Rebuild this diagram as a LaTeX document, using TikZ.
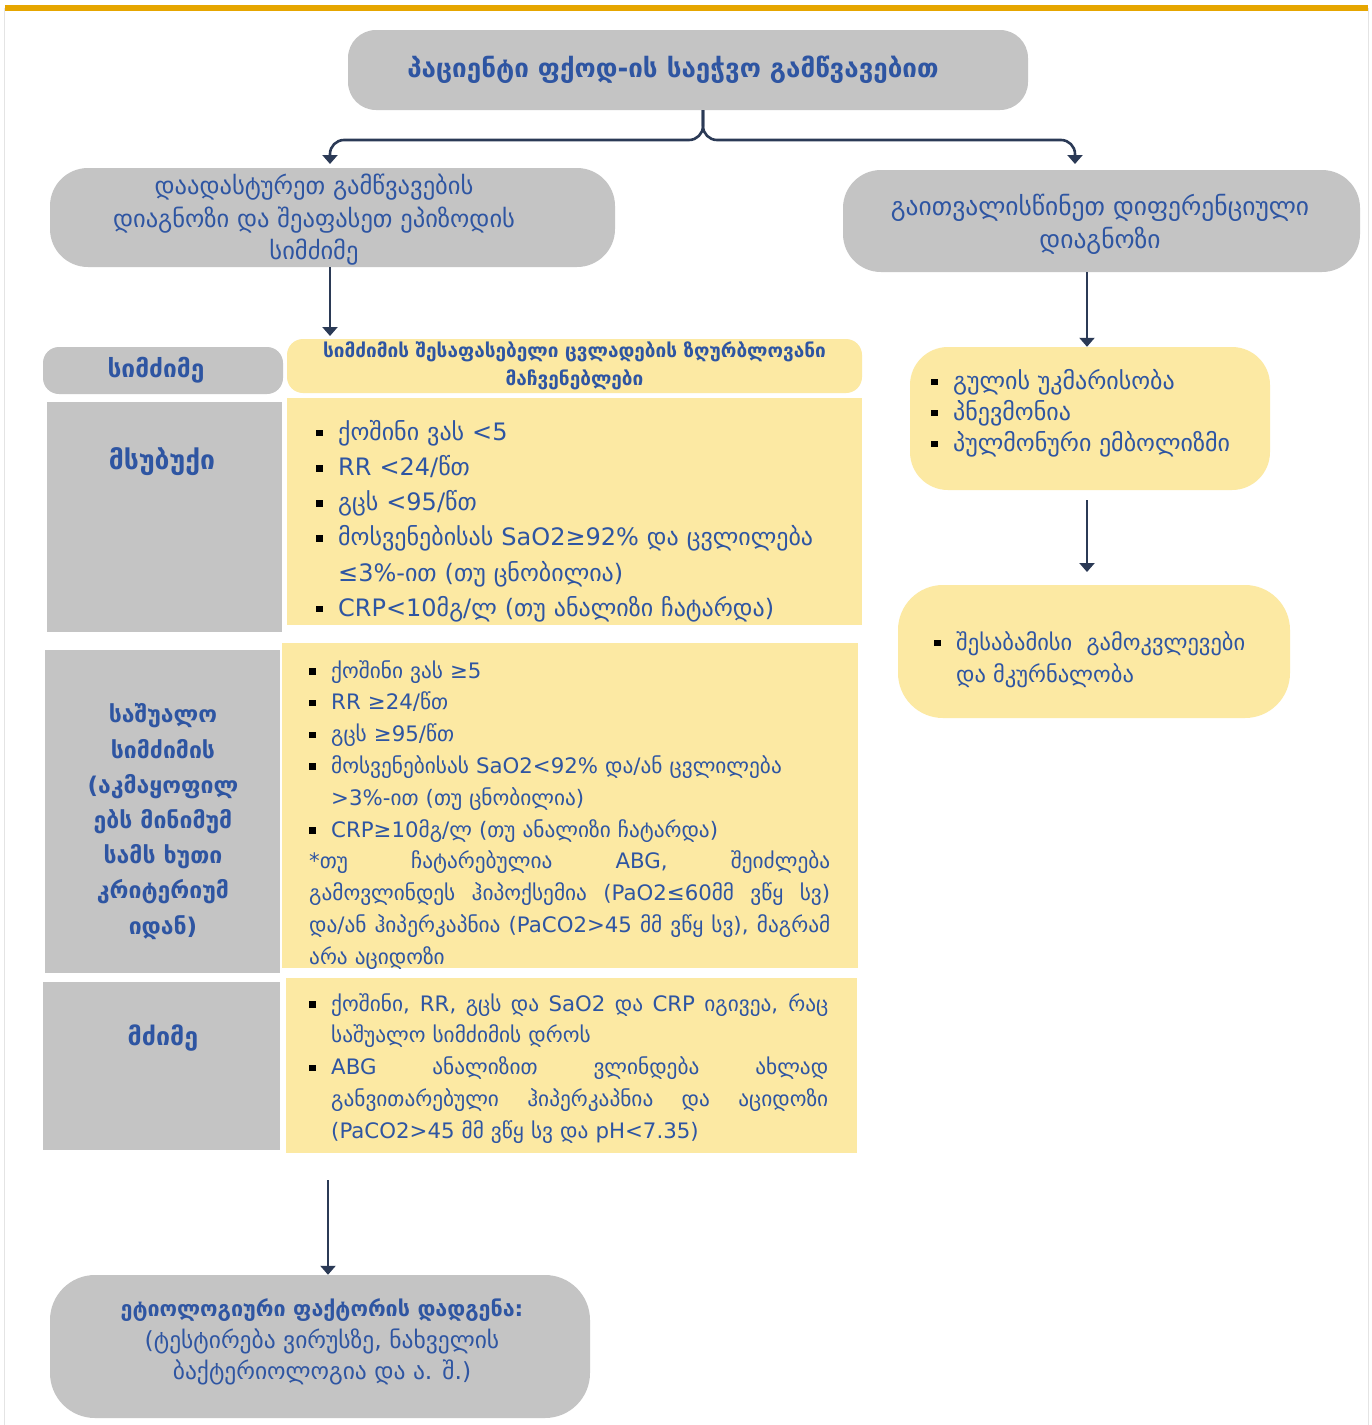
\documentclass[tikz,border=0pt]{standalone}
\usepackage{fontspec}
\setmainfont{DejaVu Sans}
\usetikzlibrary{arrows.meta}

\definecolor{goldbar}{HTML}{E6A600}
\definecolor{boxgray}{HTML}{C4C4C4}
\definecolor{boxyellow}{HTML}{FCE9A3}
\definecolor{txtblue}{HTML}{2E55A2}
\definecolor{linknavy}{HTML}{2B3A56}
\definecolor{framegray}{HTML}{E4E4E4}

% square bullet followed by the hanging gap
\newcommand\blt[1]{\makebox[#1][l]{\color{black}\raisebox{0.3ex}{\rule{6.5pt}{6.5pt}}}}
\newcommand\fsz[2]{\fontsize{#1}{#2}\selectfont}
% a fully justified line of the given width
\newcommand\spreadline[2]{\makebox[#1][s]{\spaceskip=0pt\xspaceskip=0pt #2}}

\begin{document}
\begin{tikzpicture}[x=1pt,y=-1pt,
  graybox/.style={fill=boxgray, draw=none, inner sep=0pt, text=txtblue, align=center},
  ylwbox/.style={fill=boxyellow, draw=none, inner sep=0pt, text=txtblue},
  celltext/.style={inner sep=0pt, text=txtblue, align=left, anchor=north west},
  flow/.style={draw=linknavy, line width=2.6pt, -{Triangle[length=9pt,width=15pt]}},
]
\useasboundingbox (0,0) rectangle (1372,1425);
\fill[white] (0,0) rectangle (1372,1425);

% frame and top rule
\draw[framegray, line width=1pt] (4,8) -- (4,1425) (1368,8) -- (1368,1425);
\draw[goldbar, line width=6pt] (5,8) -- (1368,8);

% top of the flow
\node[graybox, rounded corners=28pt, minimum width=680pt, minimum height=80pt,
      font=\bfseries\fsz{26}{30}] (title) at (688,70)
  {\hspace*{-30pt}პაციენტი ფქოდ-ის საეჭვო გამწვავებით};

\node[graybox, rounded corners=38pt, minimum width=565pt, minimum height=99pt] (confirm) at (332.5,217.5) {};
\node[text=txtblue, align=center, font=\fsz{24.5}{32.5}] (confirmtxt) at (314,220)
  {დაადასტურეთ გამწვავების\\დიაგნოზი და შეაფასეთ ეპიზოდის\\სიმძიმე};

\node[graybox, rounded corners=38pt, minimum width=517pt, minimum height=102pt] (differ) at (1101.5,221) {};
\node[text=txtblue, align=center, font=\fsz{25.5}{33}] (differtxt) at (1100,224)
  {გაითვალისწინეთ დიფერენციული\\დიაგნოზი};

% branching connector from the title
\coordinate (split) at (703,140);
\draw[flow, rounded corners=14pt] (title.south -| split) -- (split) -- (330,140) -- (330,164);
\draw[flow, rounded corners=14pt] (title.south -| split) -- (split) -- (1075,140) -- (1075,164);

% severity table: header
\node[graybox, rounded corners=16pt, minimum width=240pt, minimum height=47pt] (hdrgray) at (163,370.5) {};
\node[text=txtblue, font=\bfseries\fsz{24.5}{28}] (hdrgraytxt) at (156,370.5) {სიმძიმე};
\node[ylwbox, rounded corners=16pt, minimum width=575pt, minimum height=54pt,
      align=center, font=\bfseries\fsz{19}{28}] (hdrylw) at (574.5,366)
  {სიმძიმის შესაფასებელი ცვლადების ზღურბლოვანი\\მაჩვენებლები};

\draw[flow] (confirm.south -| 330,0) -- (330,336);

% row 1: mild
\node[graybox, minimum width=235pt, minimum height=230pt] (r1gray) at (164.5,517) {};
\node[ylwbox, minimum width=575pt, minimum height=227pt] (r1ylw) at (574.5,511.5) {};
\node[text=txtblue, font=\bfseries\fsz{26.5}{28}] (r1lab) at (162,462) {მსუბუქი};
\node[celltext, text width=540pt, font=\fsz{24}{35.2}] (r1txt) at (316,420)
  {\blt{22pt}ქოშინი ვას <5\\
   \blt{22pt}RR <24/წთ\\
   \blt{22pt}გცს <95/წთ\\
   \blt{22pt}მოსვენებისას SaO2≥92\% და ცვლილება\\
   \hspace*{22pt}≤3\%-ით (თუ ცნობილია)\\
   \blt{22pt}CRP<10მგ/ლ (თუ ანალიზი ჩატარდა)};

% row 2: moderate
\node[graybox, minimum width=235pt, minimum height=323pt] (r2gray) at (162.5,811.5) {};
\node[ylwbox, minimum width=576pt, minimum height=325pt] (r2ylw) at (570,805.5) {};
\node[text=txtblue, align=center, font=\bfseries\fsz{23}{35.2}] (r2lab) at (163,821.5)
  {საშუალო\\სიმძიმის\\(აკმაყოფილ\\ებს მინიმუმ\\სამს ხუთი\\კრიტერიუმ\\იდან)};
\node[celltext, text width=522pt, font=\fsz{21.3}{31.8}] (r2txt) at (309,660)
  {\blt{22pt}ქოშინი ვას ≥5\\
   \blt{22pt}RR ≥24/წთ\\
   \blt{22pt}გცს ≥95/წთ\\
   \blt{22pt}მოსვენებისას SaO2<92\% და/ან ცვლილება\\
   \hspace*{22pt}>3\%-ით (თუ ცნობილია)\\
   \blt{22pt}CRP≥10მგ/ლ (თუ ანალიზი ჩატარდა)\\
   \spreadline{521pt}{*თუ ჩატარებულია ABG, შეიძლება}\\
   \spreadline{521pt}{გამოვლინდეს ჰიპოქსემია (PaO2≤60მმ ვწყ სვ)}\\
   \spreadline{521pt}{და/ან ჰიპერკაპნია (PaCO2>45 მმ ვწყ სვ), მაგრამ}\\
   არა აციდოზი};

% row 3: severe
\node[graybox, minimum width=237pt, minimum height=168pt] (r3gray) at (161.5,1066) {};
\node[ylwbox, minimum width=571pt, minimum height=175pt] (r3ylw) at (571.5,1065.5) {};
\node[text=txtblue, font=\bfseries\fsz{25}{28}] (r3lab) at (163,1038) {მძიმე};
\node[celltext, text width=519pt, font=\fsz{21.3}{31.8}] (r3txt) at (309,993)
  {\blt{22pt}\spreadline{497pt}{ქოშინი, RR, გცს და SaO2 და CRP იგივეა, რაც}\\
   \hspace*{22pt}საშუალო სიმძიმის დროს\\
   \blt{22pt}\spreadline{497pt}{ABG ანალიზით ვლინდება ახლად}\\
   \hspace*{22pt}\spreadline{497pt}{განვითარებული ჰიპერკაპნია და აციდოზი}\\
   \hspace*{22pt}(PaCO2>45 მმ ვწყ სვ და pH<7.35)};

% cause of the exacerbation
\node[graybox, rounded corners=45pt, minimum width=540pt, minimum height=143pt] (cause) at (320,1346.5) {};
\node[text=txtblue, align=center, font=\fsz{23.5}{31.5}] (causetxt) at (322,1342)
  {{\bfseries\fontsize{21.5}{31.5}\selectfont ეტიოლოგიური ფაქტორის დადგენა:}\\(ტესტირება ვირუსზე, ნახველის\\ბაქტერიოლოგია და ა. შ.)};
\coordinate (tableend) at (328,1180);
\draw[flow] (tableend) -- (cause.north -| tableend);

% differential diagnosis branch
\node[ylwbox, rounded corners=38pt, minimum width=360pt, minimum height=143pt] (ddx) at (1090,418.5) {};
\node[celltext, font=\fsz{24}{31}] (ddxtxt) at (931,369)
  {\blt{22pt}გულის უკმარისობა\\
   \blt{22pt}პნევმონია\\
   \blt{22pt}პულმონური ემბოლიზმი};
\draw[flow] (differ.south -| 1087,0) -- (ddx.north -| 1087,0);

\node[ylwbox, rounded corners=45pt, minimum width=392pt, minimum height=133pt] (treat) at (1094,651.5) {};
\node[celltext, font=\fsz{22.5}{32}] (treattxt) at (934,631)
  {\blt{22pt}შესაბამისი\ \ გამოკვლევები\\
   \hspace*{22pt}და მკურნალობა};
\coordinate (ddxout) at (1087,500);
\draw[flow] (ddxout) -- (1087,572);
\end{tikzpicture}
\end{document}
